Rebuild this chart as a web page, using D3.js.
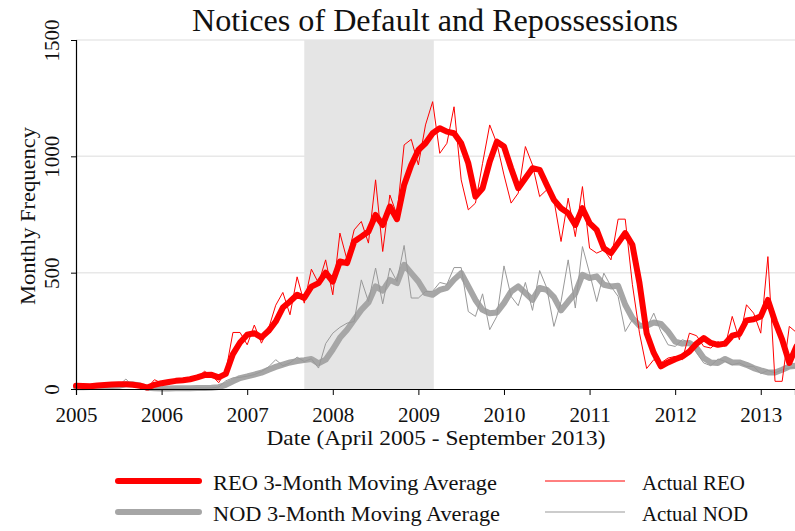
<!DOCTYPE html>
<html>
<head>
<meta charset="utf-8">
<script src="https://cdn.jsdelivr.net/npm/d3@7"></script>
<style>
  body { margin: 0; background: #fff; }
  text { font-family: "Liberation Serif", "DejaVu Serif", serif; fill: #111; }
</style>
</head>
<body>
<script>
// monthly series, first point is month 0 of 2005
var startYear = 2005;

var reoActual = [15, 10, 12, 15, 18, 20, 22, 20, 18, 12, 5, 40, 25, 30, 32, 38, 42, 48, 76, 60,
  27, 75, 243, 243, 190, 275, 197, 260, 360, 415, 319, 482, 369, 515, 455, 555, 405, 670, 555, 684,
  720, 627, 899, 591, 834, 748, 1049, 1073, 963, 1135, 1235, 1013, 1056, 1213, 899, 770, 799, 970, 1135, 1056,
  920, 799, 842, 1042, 963, 827, 856, 813, 634, 820, 655, 870, 605, 584, 598, 555, 730, 730, 450, 240,
  88, 126, 112, 133, 140, 126, 240, 229, 183, 176, 204, 183, 312, 212, 362, 326, 240, 569, 33, 33,
  269, 243];

var reoAvg = [14, 13, 12, 15, 17, 19, 20, 20, 18, 14, 6, 18, 25, 30, 35, 38, 42, 50, 60, 61,
  50, 65, 150, 200, 233, 240, 222, 250, 290, 350, 376, 405, 391, 440, 455, 500, 462, 548, 541, 634,
  655, 677, 748, 705, 784, 730, 877, 963, 1027, 1056, 1099, 1121, 1106, 1099, 1056, 970, 827, 863, 977, 1063,
  1042, 949, 863, 906, 949, 942, 877, 813, 777, 756, 705, 777, 713, 684, 605, 584, 627, 670, 620, 455,
  240, 155, 97, 114, 128, 140, 161, 195, 219, 198, 190, 195, 229, 237, 295, 300, 312, 383, 290, 212,
  112, 183];

var nodActual = [10, 8, 10, 12, 15, 12, 15, 43, 10, 8, 3, 2, 3, 2, 3, 4, 3, 5, 4, 5,
  8, 35, 48, 50, 55, 62, 75, 95, 126, 100, 112, 137, 118, 130, 90, 195, 240, 265, 283, 290,
  469, 376, 520, 366, 520, 462, 617, 391, 391, 419, 420, 458, 450, 522, 522, 333, 312, 409, 255, 312,
  529, 398, 358, 458, 338, 509, 434, 269, 376, 555, 348, 612, 498, 376, 498, 441, 398, 247, 298, 269,
  262, 326, 247, 190, 183, 212, 200, 155, 112, 100, 129, 119, 104, 112, 97, 97, 66, 80, 69, 83,
  90, 95];

var nodAvg = [8, 8, 9, 10, 12, 13, 14, 20, 20, 15, 5, 3, 2, 2, 3, 3, 3, 4, 4, 5,
  8, 18, 33, 47, 54, 62, 70, 83, 95, 105, 114, 120, 124, 129, 110, 126, 170, 220, 255, 298,
  340, 372, 441, 423, 469, 455, 534, 498, 462, 412, 405, 426, 435, 470, 498, 441, 383, 340, 326, 329,
  369, 419, 441, 412, 383, 434, 426, 395, 338, 376, 412, 491, 477, 484, 448, 441, 444, 362, 305, 272,
  272, 286, 280, 247, 204, 195, 198, 176, 133, 114, 112, 129, 114, 114, 104, 90, 80, 71, 71, 83,
  97, 100];

var yearTicks = [2005, 2006, 2007, 2008, 2009, 2010, 2011, 2012, 2013];
var valueTicks = [0, 500, 1000, 1500];
var recession = [2007.667, 2009.18];

var legendItems = [
  {label: "REO 3-Month Moving Average", color: "#ff0000", w: 6, col: 0, row: 0},
  {label: "Actual REO", color: "#ff0000", w: 1, col: 1, row: 0},
  {label: "NOD 3-Month Moving Average", color: "#a6a6a6", w: 6, col: 0, row: 1},
  {label: "Actual NOD", color: "#999999", w: 1, col: 1, row: 1}
];

var width = 795, height = 531;
var plotLeft = 76, plotRight = 795, plotTop = 40, plotBottom = 389;

var svg = d3.select("body").append("svg")
  .attr("width", width)
  .attr("height", height);

var x = d3.scaleLinear().domain([2005, 2013.4]).range([plotLeft, plotRight]);
var y = d3.scaleLinear().domain([0, 1500]).range([plotBottom, plotTop]);

// grid lines
svg.append("g").selectAll("line")
  .data(valueTicks.filter(function(d) { return d > 0; }))
  .enter().append("line")
  .attr("x1", plotLeft).attr("x2", plotRight)
  .attr("y1", function(d) { return y(d); })
  .attr("y2", function(d) { return y(d); })
  .attr("stroke", "#e8e8e8")
  .attr("stroke-width", 1.5);

// shaded recession
svg.append("rect")
  .attr("x", x(recession[0]))
  .attr("y", plotTop)
  .attr("width", x(recession[1]) - x(recession[0]))
  .attr("height", plotBottom - plotTop)
  .attr("fill", "#e5e5e5");

function toPoints(arr) {
  return arr.map(function(v, i) { return [startYear + i / 12, v]; });
}

var line = d3.line()
  .x(function(d) { return x(d[0]); })
  .y(function(d) { return y(d[1]); });

var plot = svg.append("g");

function drawSeries(arr, color, w) {
  plot.append("path")
    .datum(toPoints(arr))
    .attr("d", line)
    .attr("fill", "none")
    .attr("stroke", color)
    .attr("stroke-width", w)
    .attr("stroke-linejoin", "round")
    .attr("stroke-linecap", "round");
}

drawSeries(nodAvg, "#a6a6a6", 6);
drawSeries(nodActual, "#999999", 1);
drawSeries(reoAvg, "#ff0000", 6);
drawSeries(reoActual, "#ff0000", 1);

// axes
var xAxis = d3.axisBottom(x).tickValues(yearTicks).tickFormat(d3.format("d")).tickSize(6);
var gx = svg.append("g").attr("transform", "translate(0," + plotBottom + ")").call(xAxis);
gx.select(".domain").attr("stroke", "#000").attr("stroke-width", 1.2);
gx.selectAll(".tick line").attr("stroke", "#000");
gx.selectAll(".tick text").attr("y", 33).attr("dy", null)
  .attr("font-size", 21)
  .style("font-family", '"Liberation Serif", serif').attr("fill", "#111");

var yAxis = d3.axisLeft(y).tickValues(valueTicks).tickSize(5).tickFormat(d3.format("d"));
var gy = svg.append("g").attr("transform", "translate(" + plotLeft + ",0)").call(yAxis);
gy.select(".domain").attr("stroke", "#000").attr("stroke-width", 1.2);
gy.selectAll(".tick line").attr("stroke", "#000");
gy.selectAll(".tick text")
  .attr("x", null).attr("dy", null)
  .attr("text-anchor", "middle")
  .attr("transform", "translate(-17,0) rotate(-90)")
  .attr("font-size", 21)
  .style("font-family", '"Liberation Serif", serif').attr("fill", "#111");

// titles
svg.append("text")
  .attr("x", 435).attr("y", 31)
  .attr("text-anchor", "middle")
  .attr("font-size", 32)
  .attr("textLength", 486).attr("lengthAdjust", "spacingAndGlyphs")
  .text("Notices of Default and Repossessions");

svg.append("text")
  .attr("x", 436).attr("y", 445)
  .attr("text-anchor", "middle")
  .attr("font-size", 21)
  .attr("textLength", 339).attr("lengthAdjust", "spacingAndGlyphs")
  .text("Date (April 2005 - September 2013)");

svg.append("text")
  .attr("transform", "translate(35,216) rotate(-90)")
  .attr("text-anchor", "middle")
  .attr("font-size", 22)
  .attr("textLength", 178).attr("lengthAdjust", "spacingAndGlyphs")
  .text("Monthly Frequency");

// legend
var colX = [[118, 199, 213], [545, 625, 642]];
var rowY = [481, 512];
var leg = svg.append("g").selectAll("g")
  .data(legendItems).enter().append("g");

leg.append("line")
  .attr("x1", function(d) { return colX[d.col][0]; })
  .attr("x2", function(d) { return colX[d.col][1]; })
  .attr("y1", function(d) { return rowY[d.row]; })
  .attr("y2", function(d) { return rowY[d.row]; })
  .attr("stroke", function(d) { return d.color; })
  .attr("stroke-width", function(d) { return d.w; })
  .attr("stroke-linecap", function(d) { return d.w > 1 ? "round" : "butt"; });

leg.append("text")
  .attr("x", function(d) { return colX[d.col][2]; })
  .attr("y", function(d) { return rowY[d.row] + 9; })
  .attr("font-size", 22)
  .attr("textLength", function(d) { return d.col === 0 ? (d.row === 0 ? 284 : 287) : (d.row === 0 ? 103 : 106); })
  .attr("lengthAdjust", "spacingAndGlyphs")
  .text(function(d) { return d.label; });
</script>
</body>
</html>
